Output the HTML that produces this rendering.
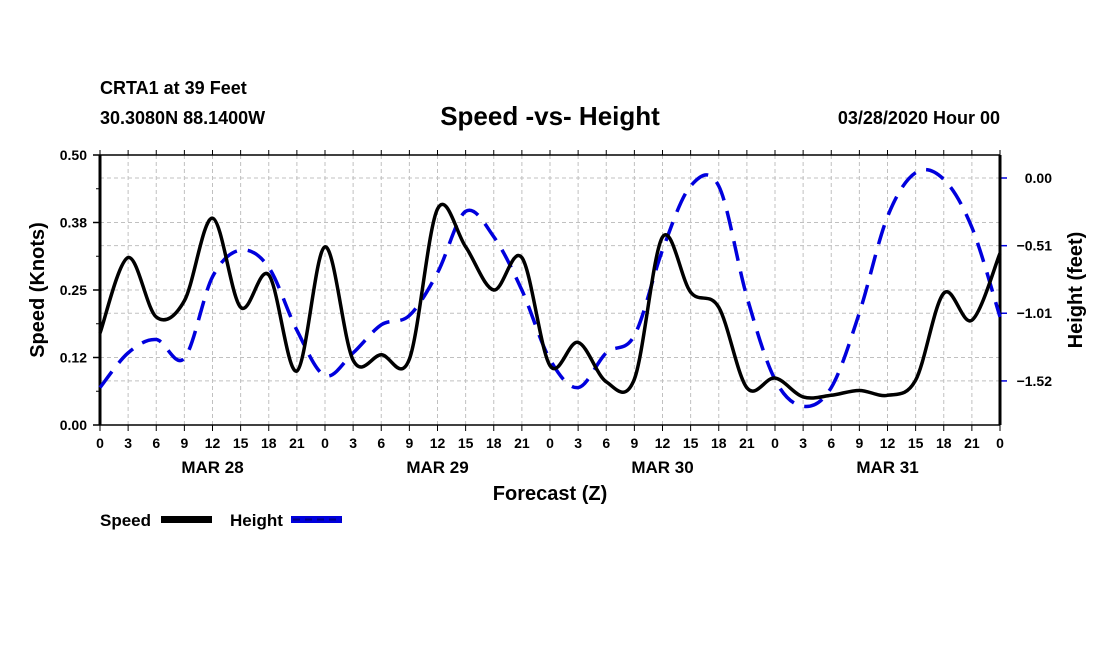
<!DOCTYPE html>
<html><head><meta charset="utf-8">
<style>
html,body{margin:0;padding:0;background:#fff;}
svg{display:block;font-family:"Liberation Sans",Arial,sans-serif;font-weight:bold;}
</style></head>
<body>
<svg id="chart" width="1100" height="650" viewBox="0 0 1100 650" xmlns="http://www.w3.org/2000/svg">
<rect width="1100" height="650" fill="#fff"/>
<text x="100" y="94" font-size="18">CRTA1 at 39 Feet</text>
<text x="100" y="124" font-size="18">30.3080N 88.1400W</text>
<text x="550" y="125" font-size="26" text-anchor="middle">Speed -vs- Height</text>
<text x="1000" y="124" font-size="18" text-anchor="end">03/28/2020 Hour 00</text>
<g id="grid"></g>
<g id="axes"></g>
<g id="series"></g>
<text transform="translate(44,290) rotate(-90)" font-size="20" text-anchor="middle">Speed (Knots)</text>
<text transform="translate(1082,290) rotate(-90)" font-size="20" text-anchor="middle">Height (feet)</text>
<text x="550" y="500" font-size="20" text-anchor="middle">Forecast (Z)</text>
<g>
<text x="100" y="526" font-size="17">Speed</text>
<rect x="161" y="516" width="51" height="7" fill="#000"/>
<text x="230" y="526" font-size="17">Height</text>
<rect x="291" y="516" width="51" height="7" fill="#0000dd"/>
<line x1="293" y1="519.5" x2="342" y2="519.5" stroke="#000088" stroke-width="2" stroke-dasharray="7 5"/>
</g>
</svg>
<script>
const hours = [0,3,6,9,12,15,18,21,24,27,30,33,36,39,42,45,48,51,54,57,60,63,66,69,72,75,78,81,84,87,90,93,96];
const speedValues = [0.17,0.31,0.20,0.23,0.383,0.218,0.278,0.10,0.33,0.12,0.13,0.122,0.40,0.33,0.25,0.31,0.11,0.153,0.08,0.085,0.348,0.246,0.218,0.069,0.087,0.052,0.055,0.064,0.055,0.083,0.244,0.194,0.318];
const heightValues = [-1.57,-1.31,-1.21,-1.35,-0.74,-0.54,-0.67,-1.14,-1.48,-1.31,-1.10,-1.03,-0.71,-0.25,-0.44,-0.84,-1.36,-1.57,-1.31,-1.18,-0.54,-0.06,-0.06,-0.89,-1.51,-1.71,-1.57,-1.01,-0.29,0.04,-0.01,-0.37,-1.04];
const speedTicks = [0,0.125,0.25,0.375,0.5];
const speedTickLabels = ["0.00","0.12","0.25","0.38","0.50"];
const heightTicks = [0,-0.507,-1.013,-1.52];
const heightTickLabels = ["0.00","\u22120.51","\u22121.01","\u22121.52"];
const dayLabels = ["MAR 28","MAR 29","MAR 30","MAR 31"];

const NS="http://www.w3.org/2000/svg";
const X0=100,X1=1000,Y0=425,Y1=155;
const xs=h=>X0+(h/96)*(X1-X0);
const ys=v=>Y0-(v/0.5)*(Y0-Y1);
const yh=v=>178-v*133.5;
function mk(tag,attrs,parent){const e=document.createElementNS(NS,tag);for(const k in attrs)e.setAttribute(k,attrs[k]);parent.appendChild(e);return e;}
const grid=document.getElementById('grid'),axes=document.getElementById('axes'),series=document.getElementById('series');

hours.forEach((h,i)=>{
  const x=xs(h);
  if(i>0&&i<hours.length-1){const g=mk('line',{x1:x,y1:Y1,x2:x,y2:Y0,stroke:'#c0c0c0','stroke-width':1,'stroke-dasharray':'4 3'},grid);
  
  }
  const t=mk('line',{x1:x,y1:Y0,x2:x,y2:Y0+6,stroke:'#000','stroke-width':1},axes);
  
  
  mk('line',{x1:x,y1:Y1,x2:x,y2:Y1-5,stroke:'#000','stroke-width':1},axes);
  const lb=mk('text',{x:x,y:Y0+23,'font-size':14,'text-anchor':'middle'},axes);
  lb.textContent=String(h%24);
  
  
});
dayLabels.forEach((d,i)=>{
  const t=mk('text',{x:xs(i*24+12),y:Y0+48,'font-size':17,'text-anchor':'middle'},axes);
  t.textContent=d;
  
  
});
speedTicks.forEach((v,i)=>{
  const y=ys(v);
  if(i>0&&i<speedTicks.length-1){const g=mk('line',{x1:X0,y1:y,x2:X1,y2:y,stroke:'#c0c0c0','stroke-width':1,'stroke-dasharray':'4 3'},grid);
  
  }
  mk('line',{x1:X0-7,y1:y,x2:X0,y2:y,stroke:'#000','stroke-width':1.5},axes);
  if(i<speedTicks.length-1)mk('line',{x1:X0-4,y1:ys(v+0.0625),x2:X0,y2:ys(v+0.0625),stroke:'#000','stroke-width':1},axes);
  const t=mk('text',{x:X0-13,y:y+5,'font-size':14,'text-anchor':'end'},axes);
  t.textContent=speedTickLabels[i];
  
  
});
heightTicks.forEach((v,i)=>{
  const y=yh(v);
  const g=mk('line',{x1:X0,y1:y,x2:X1,y2:y,stroke:'#c0c0c0','stroke-width':1,'stroke-dasharray':'4 3'},grid);
  
  
  mk('line',{x1:X1,y1:y,x2:X1+7,y2:y,stroke:'#0000dd','stroke-width':1.5},axes);
  const t=mk('text',{x:1052,y:y+5,'font-size':14,'text-anchor':'end'},axes);
  t.textContent=heightTickLabels[i];
  
  
});
mk('line',{x1:X0,y1:Y1,x2:X1,y2:Y1,stroke:'#000','stroke-width':1.5},axes);
mk('line',{x1:X0,y1:Y0,x2:X1,y2:Y0,stroke:'#000','stroke-width':1.5},axes);
mk('line',{x1:X0,y1:Y1,x2:X0,y2:Y0,stroke:'#000','stroke-width':3},axes);
mk('line',{x1:X1,y1:Y1,x2:X1,y2:Y0,stroke:'#000','stroke-width':3},axes);

function spline(pts){
  let d='M'+pts[0][0]+','+pts[0][1];
  for(let i=0;i<pts.length-1;i++){
    const p0=pts[Math.max(0,i-1)],p1=pts[i],p2=pts[i+1],p3=pts[Math.min(pts.length-1,i+2)];
    const c1=[p1[0]+(p2[0]-p0[0])/6,p1[1]+(p2[1]-p0[1])/6];
    const c2=[p2[0]-(p3[0]-p1[0])/6,p2[1]-(p3[1]-p1[1])/6];
    d+=' C'+c1[0]+','+c1[1]+' '+c2[0]+','+c2[1]+' '+p2[0]+','+p2[1];
  }
  return d;
}
const hp=mk('path',{d:spline(hours.map((h,i)=>[xs(h),yh(heightValues[i])])),fill:'none',stroke:'#0000dd','stroke-width':3.5,'stroke-dasharray':'20 11'},series);


const sp=mk('path',{d:spline(hours.map((h,i)=>[xs(h),ys(speedValues[i])])),fill:'none',stroke:'#000','stroke-width':3.5},series);


</script>
</body></html>
